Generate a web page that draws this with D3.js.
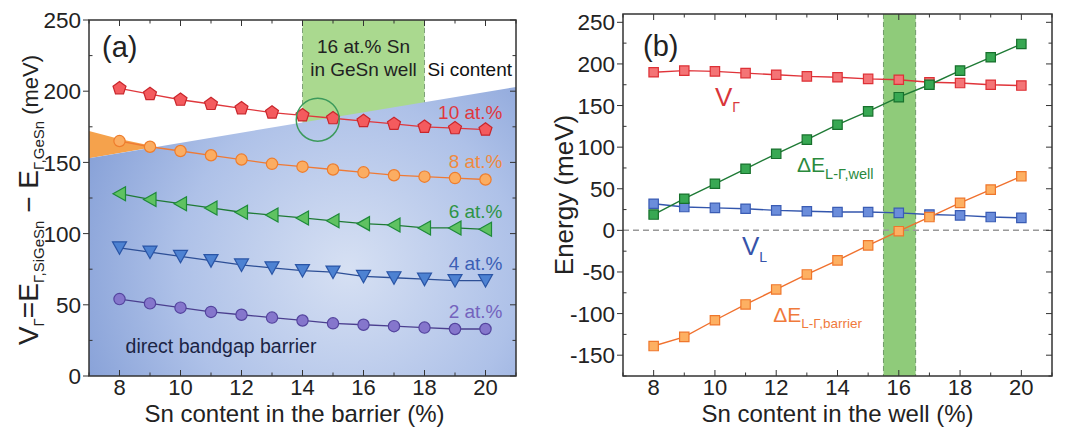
<!DOCTYPE html>
<html>
<head>
<meta charset="utf-8">
<script src="https://cdn.jsdelivr.net/npm/d3@7"></script>
<style>
  body { margin: 0; background: #fff; }
  svg { display: block; font-family: Arial, "Liberation Sans", sans-serif; }
</style>
</head>
<body>
<svg id="chart" width="1077" height="431"></svg>
<script>
// ---- data ----
const snBarrier = [8, 9, 10, 11, 12, 13, 14, 15, 16, 17, 18, 19, 20];
const si10 = [202, 198, 194, 191, 188, 185, 183, 181, 179, 177, 175, 174, 173];
const si8  = [165, 161, 158, 155, 152, 149, 147, 145, 143, 141, 140, 139, 138];
const si6  = [128, 124, 121, 118, 115, 113, 111, 109, 107, 106, 104, 104, 103];
const si4  = [90, 87, 84, 81, 78, 76, 74, 73, 70, 69, 68, 67, 67];
const si2  = [54, 51, 48, 45, 43, 41, 39, 37, 36, 35, 34, 33, 33];

const snWell = [8, 9, 10, 11, 12, 13, 14, 15, 16, 17, 18, 19, 20];
const vGamma    = [190, 192, 191, 189, 187, 185, 184, 182, 181, 178, 177, 175, 174];
const dEwell    = [19, 38, 56, 74, 92, 109, 127, 143, 160, 175, 192, 208, 224];
const vL        = [32, 28, 27, 26, 24, 23, 22, 22, 21, 19, 18, 16, 15];
const dEbarrier = [-139, -128, -108, -89, -71, -53, -36, -18, -1, 16, 33, 49, 65];

const xTicks = [8, 10, 12, 14, 16, 18, 20];
const yTicksA = [0, 50, 100, 150, 200, 250];
const yTicksB = [-150, -100, -50, 0, 50, 100, 150, 200, 250];

// shaded regions in panel (a) and (b)
const directGapEdge = [[7, 153], [21, 203]];
const orangeEdge = [[7, 172], [8, 166.5], [9.2, 161]];
const wellWindowA = [14, 18];
const wellBandB = [15.5, 16.55];

const svg = d3.select('#chart');

// marker shapes
function pentagon(r) {
  const p = d3.path();
  for (let k = 0; k < 5; k++) {
    const a = -Math.PI / 2 + k * 2 * Math.PI / 5;
    k ? p.lineTo(r * Math.cos(a), r * Math.sin(a)) : p.moveTo(r * Math.cos(a), r * Math.sin(a));
  }
  p.closePath();
  return p.toString();
}
const shapes = {
  pentagon: pentagon(6.8),
  circle: d3.symbol(d3.symbolCircle, 100)(),
  left: 'M-6.5,0L6,-7L6,7Z',
  down: 'M-7,-6L7,-6L0,6.5Z',
  square: 'M-4.7,-4.7H4.7V4.7H-4.7Z'
};

// frame with ticks (left ticks out, others in), like the original Origin plot
function frame(g, x, y, yTicks, yMinor, w, h) {
  const c = '#333';
  g.append('rect').attr('width', w).attr('height', h)
    .attr('fill', 'none').attr('stroke', c).attr('stroke-width', 1.5);
  const xMinor = d3.range(7, 21.01, 1);
  xMinor.forEach(v => {
    const major = v % 2 === 0;
    const len = major ? 6 : 3.5;
    g.append('line').attr('x1', x(v)).attr('x2', x(v)).attr('y1', h).attr('y2', h - len).attr('stroke', c);
    g.append('line').attr('x1', x(v)).attr('x2', x(v)).attr('y1', 0).attr('y2', len).attr('stroke', c);
  });
  yMinor.forEach(v => {
    const major = yTicks.includes(v);
    const len = major ? 6 : 3.5;
    g.append('line').attr('x1', 0).attr('x2', major ? -6 : 3.5).attr('y1', y(v)).attr('y2', y(v)).attr('stroke', c);
    g.append('line').attr('x1', w).attr('x2', w - len).attr('y1', y(v)).attr('y2', y(v)).attr('stroke', c);
  });
  g.selectAll('.xt').data(xTicks).enter().append('text')
    .attr('x', d => x(d)).attr('y', h + 19).attr('text-anchor', 'middle')
    .attr('font-size', 22).attr('fill', '#222').text(d => d);
  g.selectAll('.yt').data(yTicks).enter().append('text')
    .attr('x', -8).attr('y', d => y(d)).attr('dy', '0.36em').attr('text-anchor', 'end')
    .attr('font-size', 22.5).attr('fill', '#222').text(d => d);
}

// ---------------- panel (a) ----------------
const A = { left: 89, top: 20, w: 427, h: 356 };
const gA = svg.append('g').attr('transform', `translate(${A.left},${A.top})`);
const xA = d3.scaleLinear().domain([7, 21]).range([0, A.w]);
const yA = d3.scaleLinear().domain([0, 250]).range([A.h, 0]);

const defs = svg.append('defs');
const grad = defs.append('radialGradient').attr('id', 'blueGrad')
  .attr('gradientUnits', 'userSpaceOnUse')
  .attr('cx', xA(15.5)).attr('cy', yA(75)).attr('r', 340);
grad.append('stop').attr('offset', 0).attr('stop-color', '#d6e0f3');
grad.append('stop').attr('offset', 0.5).attr('stop-color', '#aec1e8');
grad.append('stop').attr('offset', 1).attr('stop-color', '#7592d0');
defs.append('clipPath').attr('id', 'clipA').append('rect').attr('width', A.w).attr('height', A.h);

const bg = gA.append('g').attr('clip-path', 'url(#clipA)');
// green window
bg.append('rect').attr('x', xA(wellWindowA[0])).attr('y', 0)
  .attr('width', xA(wellWindowA[1]) - xA(wellWindowA[0])).attr('height', A.h)
  .attr('fill', '#aad98f');
wellWindowA.forEach(v => bg.append('line').attr('x1', xA(v)).attr('x2', xA(v))
  .attr('y1', 0).attr('y2', A.h).attr('stroke', '#7fa07a').attr('stroke-dasharray', '5,3'));
// orange wedge
const line = d3.line().x(d => xA(d[0])).y(d => yA(d[1]));
bg.append('path')
  .attr('d', line(orangeEdge.concat([directGapEdge[0]])) + 'Z')
  .attr('fill', '#f5a24c');
// direct bandgap region
bg.append('path')
  .attr('d', line([[7, 0], directGapEdge[0], directGapEdge[1], [21, 0]]) + 'Z')
  .attr('fill', 'url(#blueGrad)');

const seriesA = [
  { v: si10, label: '10 at.%', shape: 'pentagon', fill: '#f45b5e', stroke: '#c9262c', line: '#df383d', tc: '#e0383d' },
  { v: si8, label: '8 at.%', shape: 'circle', fill: '#fbad62', stroke: '#ee7d2c', line: '#ef7a35', tc: '#f08a40' },
  { v: si6, label: '6 at.%', shape: 'left', fill: '#5fc261', stroke: '#1e8a3a', line: '#1f7a35', tc: '#2e9445' },
  { v: si4, label: '4 at.%', shape: 'down', fill: '#4d82d2', stroke: '#2a55a6', line: '#2d4f96', tc: '#3b5fb5' },
  { v: si2, label: '2 at.%', shape: 'circle', fill: '#8576cc', stroke: '#54449e', line: '#4b3f8f', tc: '#7463bd' }
];

seriesA.forEach(s => {
  const pts = snBarrier.map((x, i) => [x, s.v[i]]);
  gA.append('path').attr('d', line(pts)).attr('fill', 'none')
    .attr('stroke', s.line).attr('stroke-width', 1.3);
  gA.selectAll(null).data(pts).enter().append('path')
    .attr('d', shapes[s.shape])
    .attr('transform', d => `translate(${xA(d[0])},${yA(d[1])})`)
    .attr('fill', s.fill).attr('stroke', s.stroke).attr('stroke-width', 1.2);
  gA.append('text').attr('x', xA(20) + 17).attr('y', yA(s.v[s.v.length - 1]) - 11)
    .attr('text-anchor', 'end').attr('font-size', 19).attr('fill', s.tc).text(s.label);
});

// circle marking 16 at.% crossing
gA.append('circle').attr('cx', xA(14.5)).attr('cy', yA(180)).attr('r', 21.5)
  .attr('fill', 'none').attr('stroke', '#3c9a5c').attr('stroke-width', 1.5);

gA.append('text').attr('x', 13).attr('y', 37).attr('font-size', 29).attr('fill', '#222').text('(a)');
gA.append('text').attr('x', xA(16)).attr('y', 33).attr('text-anchor', 'middle')
  .attr('font-size', 19).attr('fill', '#222').text('16 at.% Sn');
gA.append('text').attr('x', xA(16)).attr('y', 56).attr('text-anchor', 'middle')
  .attr('font-size', 19).attr('fill', '#222').text('in GeSn well');
gA.append('text').attr('x', xA(18) + 3).attr('y', 56)
  .attr('font-size', 19).attr('fill', '#111').text('Si content');
gA.append('text').attr('x', xA(8.2)).attr('y', 333)
  .attr('font-size', 19.5).attr('fill', '#1b2444').text('direct bandgap barrier');

frame(gA, xA, yA, yTicksA, d3.range(0, 251, 25), A.w, A.h);

gA.append('text').attr('x', A.w / 2 - 8).attr('y', 402).attr('text-anchor', 'middle')
  .attr('font-size', 24).attr('fill', '#222').text('Sn content in the barrier (%)');

const titleA = svg.append('text').attr('transform', 'translate(38,200) rotate(-90)')
  .attr('text-anchor', 'middle').attr('fill', '#222');
[['V', 28, 0], ['\u0393', 15, 6], ['=E', 28, -6], ['\u0393,SiGeSn', 15, 6],
 [' \u2212 E', 28, -6], ['\u0393,GeSn', 15, 6], [' (meV)', 22, -6]].forEach(t => {
  titleA.append('tspan').attr('font-size', t[1]).attr('dy', t[2]).text(t[0]);
});

// ---------------- panel (b) ----------------
const B = { left: 623, top: 14, w: 429, h: 362 };
const gB = svg.append('g').attr('transform', `translate(${B.left},${B.top})`);
const xB = d3.scaleLinear().domain([7, 21]).range([0, B.w]);
const yB = d3.scaleLinear().domain([-175, 260]).range([B.h, 0]);

gB.append('rect').attr('x', xB(wellBandB[0])).attr('y', 0)
  .attr('width', xB(wellBandB[1]) - xB(wellBandB[0])).attr('height', B.h)
  .attr('fill', '#8fcb7a');
wellBandB.forEach(v => gB.append('line').attr('x1', xB(v)).attr('x2', xB(v))
  .attr('y1', 0).attr('y2', B.h).attr('stroke', '#6f9a6a').attr('stroke-dasharray', '5,3'));
gB.append('line').attr('x1', 0).attr('x2', B.w).attr('y1', yB(0)).attr('y2', yB(0))
  .attr('stroke', '#999').attr('stroke-width', 1.5).attr('stroke-dasharray', '6,4');

const lineB = d3.line().x(d => xB(d[0])).y(d => yB(d[1]));
const seriesB = [
  { v: vGamma, fill: '#f47476', stroke: '#dd3036', line: '#e0343a' },
  { v: vL, fill: '#6b8ddb', stroke: '#3a5cb4', line: '#3356ad' },
  { v: dEwell, fill: '#38a853', stroke: '#17702c', line: '#1e7a35' },
  { v: dEbarrier, fill: '#fdb062', stroke: '#ef772c', line: '#f0712e' }
];
seriesB.forEach(s => {
  const pts = snWell.map((x, i) => [x, s.v[i]]);
  gB.append('path').attr('d', lineB(pts)).attr('fill', 'none')
    .attr('stroke', s.line).attr('stroke-width', 1.4);
  gB.selectAll(null).data(pts).enter().append('path')
    .attr('d', shapes.square)
    .attr('transform', d => `translate(${xB(d[0])},${yB(d[1])})`)
    .attr('fill', s.fill).attr('stroke', s.stroke).attr('stroke-width', 1.2);
});

function subLabel(g, x, y, main, sub, size, subSize, color) {
  const t = g.append('text').attr('x', x).attr('y', y).attr('fill', color);
  t.append('tspan').attr('font-size', size).text(main);
  t.append('tspan').attr('font-size', subSize).attr('dy', subSize * 0.45).text(sub);
}
gB.append('text').attr('x', 20).attr('y', 42).attr('font-size', 29).attr('fill', '#222').text('(b)');
subLabel(gB, xB(10), yB(150), 'V', '\u0393', 26, 14, '#d9353a');
subLabel(gB, xB(12.68), yB(70), '\u0394E', 'L-\u0393,well', 21, 14.5, '#2a8a3d');
subLabel(gB, xB(10.88), yB(-30), 'V', 'L', 26, 14, '#3653aa');
subLabel(gB, xB(11.9), yB(-110), '\u0394E', 'L-\u0393,barrier', 21, 13.5, '#f07a3c');

frame(gB, xB, yB, yTicksB, d3.range(-175, 260, 25), B.w, B.h);

gB.append('text').attr('x', xB(14)).attr('y', 408).attr('text-anchor', 'middle')
  .attr('font-size', 24).attr('fill', '#222').text('Sn content in the well (%)');
svg.append('text').attr('transform', 'translate(573,195) rotate(-90)')
  .attr('text-anchor', 'middle').attr('font-size', 26).attr('fill', '#222').text('Energy (meV)');
</script>
</body>
</html>
